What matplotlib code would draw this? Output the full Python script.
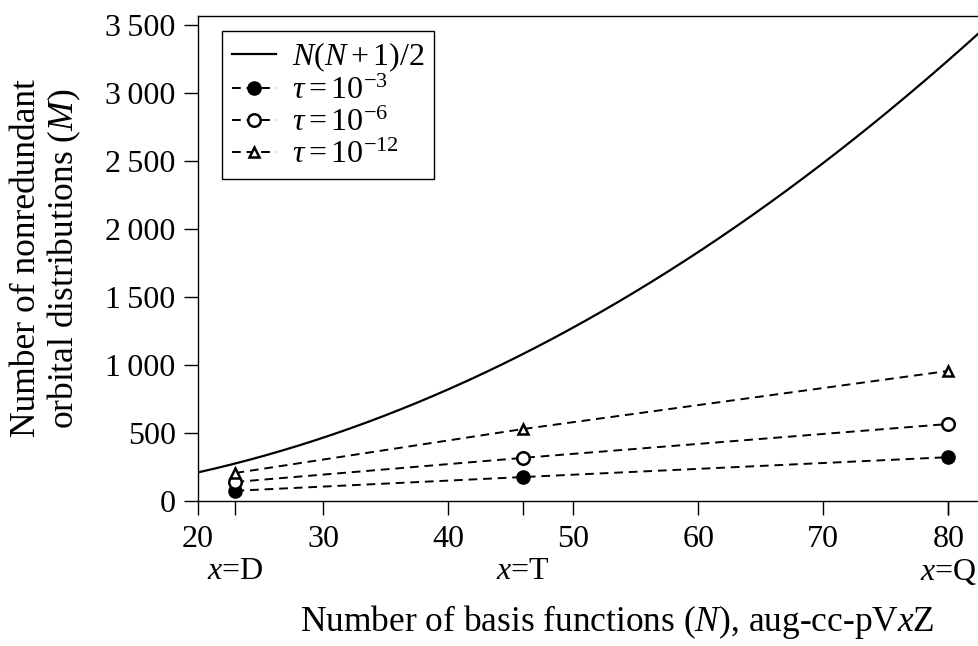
import numpy as np
import matplotlib
matplotlib.use('Agg')
import matplotlib.pyplot as plt

plt.rcParams['font.family'] = ['Liberation Serif', 'DejaVu Serif']
plt.rcParams['mathtext.fontset'] = 'custom'
plt.rcParams['mathtext.rm'] = 'Liberation Serif'
plt.rcParams['mathtext.it'] = 'Liberation Serif:italic'

# basis set sizes (aug-cc-pVxZ) and measured counts
N_basis = [23, 46, 80]
basis_names = ['D', 'T', 'Q']
M_tau3 = [75, 176, 322]
M_tau6 = [140, 317, 566]
M_tau12 = [206, 529, 956]

y_ticks = [0, 500, 1000, 1500, 2000, 2500, 3000, 3500]
y_ticklabels = ['0', '500', '1\u2009000', '1\u2009500', '2\u2009000',
                '2\u2009500', '3\u2009000', '3\u2009500']
x_ticks = [20, 30, 40, 50, 60, 70, 80]

N_line = np.linspace(20, 87, 300)
M_full = N_line * (N_line + 1) / 2

fig = plt.figure(figsize=(9.79, 6.46), dpi=100)
ax = fig.add_axes([0.2022, 0.2245, 0.856, 0.751])

fs = 23
lfs = 25.5
ax.plot(N_line, M_full, color='black', lw=1.6, label=r'$N(N+1)/2$')
dash = (4.5, 3)
ax.plot(N_basis, M_tau3, ls='--', dashes=dash, color='black', lw=1.4,
        marker='o', ms=9.5, mfc='black', mec='black', label=r'$\tau = 10^{-3}$')
ax.plot(N_basis, M_tau6, ls='--', dashes=dash, color='black', lw=1.4,
        marker='o', ms=9, mfc='white', mec='black', mew=1.8, label=r'$\tau = 10^{-6}$')
ax.plot(N_basis, M_tau12, ls='--', dashes=dash, color='black', lw=1.4,
        marker='^', ms=7.5, mfc='white', mec='black', mew=1.8, label=r'$\tau = 10^{-12}$')

ax.set_xlim(20, 87)
ax.set_ylim(0, 3566)
ax.xaxis.remove_overlapping_locs = False
ax.set_xticks(x_ticks)
ax.set_xticklabels([str(t) for t in x_ticks])
ax.set_xticks(N_basis, minor=True)
ax.set_xticklabels([r'$x$=' + b for b in basis_names], minor=True)
ax.set_yticks(y_ticks)
ax.set_yticklabels(y_ticklabels)

ax.tick_params(axis='both', which='both', direction='out', length=10, width=1,
               labelsize=fs)
ax.tick_params(axis='x', which='major', pad=7)
ax.tick_params(axis='x', which='minor', pad=30)
ax.tick_params(axis='y', pad=6)
for sp in ax.spines.values():
    sp.set_linewidth(1.0)

ax.set_xlabel(r'Number of basis functions ($N$), aug-cc-pV$x$Z', fontsize=lfs, labelpad=12)
ax.set_ylabel('Number of nonredundant\norbital distributions ($M$)', fontsize=lfs,
              labelpad=16, linespacing=1.1)

leg = ax.legend(loc='upper left', bbox_to_anchor=(0.0286, 0.969), fontsize=fs,
                frameon=True, fancybox=False, edgecolor='black', framealpha=1,
                handlelength=1.4, handletextpad=0.5, borderpad=0.3, labelspacing=0.08,
                borderaxespad=0)
leg.get_frame().set_linewidth(1.0)

fig.savefig('out.png', dpi=100)
